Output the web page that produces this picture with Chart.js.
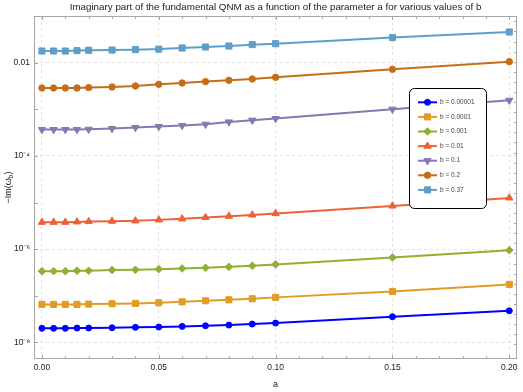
<!DOCTYPE html>
<html><head><meta charset="utf-8">
<script src="https://cdn.jsdelivr.net/npm/chart.js@4.4.1/dist/chart.umd.min.js"></script>
<style>html,body{margin:0;padding:0;background:#fff}</style>
</head><body>
<canvas id="c" width="523" height="392"></canvas>
<script>
// ---- data ----
const chartTitle = 'Imaginary part of the fundamental QNM as a function of the parameter a for various values of b';
const aValues = [0, 0.005, 0.01, 0.015, 0.02, 0.03, 0.04, 0.05, 0.06, 0.07, 0.08, 0.09, 0.1, 0.15, 0.2];
const seriesLabels = ['b = 0.00001', 'b = 0.0001', 'b = 0.001', 'b = 0.01', 'b = 0.1', 'b = 0.2', 'b = 0.37'];
const b00001 = [2.0e-8, 2.0e-8, 2.0e-8, 2.03e-8, 2.03e-8, 2.06e-8, 2.10e-8, 2.13e-8, 2.20e-8, 2.27e-8, 2.35e-8, 2.47e-8, 2.59e-8, 3.54e-8, 4.76e-8];
const b0001  = [6.53e-8, 6.53e-8, 6.53e-8, 6.53e-8, 6.62e-8, 6.73e-8, 6.86e-8, 7.06e-8, 7.41e-8, 7.80e-8, 8.18e-8, 8.61e-8, 9.23e-8, 1.239e-7, 1.75e-7];
const b001   = [3.37e-7, 3.37e-7, 3.37e-7, 3.43e-7, 3.43e-7, 3.55e-7, 3.60e-7, 3.72e-7, 3.85e-7, 3.97e-7, 4.17e-7, 4.39e-7, 4.70e-7, 6.64e-7, 9.5e-7];
const b01    = [3.78e-6, 3.78e-6, 3.78e-6, 3.84e-6, 3.92e-6, 3.98e-6, 4.04e-6, 4.24e-6, 4.46e-6, 4.78e-6, 5.09e-6, 5.42e-6, 5.81e-6, 8.45e-6, 1.256e-5];
const b1     = [3.66e-4, 3.66e-4, 3.66e-4, 3.66e-4, 3.72e-4, 3.85e-4, 4.05e-4, 4.26e-4, 4.47e-4, 4.76e-4, 5.33e-4, 5.81e-4, 6.31e-4, 1.0e-3, 1.556e-3];
const b2     = [0.002858, 0.002858, 0.002858, 0.002858, 0.00291, 0.0030, 0.003155, 0.003428, 0.003656, 0.003917, 0.004178, 0.004457, 0.004842, 0.007178, 0.0105];
const b37    = [0.01774, 0.01774, 0.01774, 0.0181, 0.0184, 0.0186, 0.0190, 0.0195, 0.0206, 0.0216, 0.0227, 0.0243, 0.0255, 0.0344, 0.0453];
const xTickValues = [0, 0.01, 0.02, 0.03, 0.04, 0.05, 0.06, 0.07, 0.08, 0.09, 0.1, 0.11, 0.12, 0.13, 0.14, 0.15, 0.16, 0.17, 0.18, 0.19, 0.2];
const xTickLabels = {0: '0.00', 0.05: '0.05', 0.1: '0.10', 0.15: '0.15', 0.2: '0.20'};
const yTickValues = [1e-8, 1e-6, 1e-4, 1e-2];
const yTickLabels = {'1e-8': '10\u207B\u2078', '0.000001': '10\u207B\u2076', '0.0001': '10\u207B\u2074', '0.01': '0.01'};
const yDecades = [1e-8, 1e-7, 1e-6, 1e-5, 1e-4, 1e-3, 1e-2, 1e-1];

const colors = ['#0000FF', '#E19C24', '#8FB032', '#EB6235', '#8778B3', '#C56E1A', '#5E9EC9'];
const styles = [
  {s: 'circle', r: 3, rot: 0},
  {s: 'rect', r: 4.3, rot: 0},
  {s: 'rectRot', r: 3.8, rot: 0},
  {s: 'triangle', r: 4.2, rot: 0},
  {s: 'triangle', r: 4.2, rot: 180},
  {s: 'circle', r: 3.2, rot: 0},
  {s: 'rect', r: 4.3, rot: 0}
];
const allSeries = [b00001, b0001, b001, b01, b1, b2, b37];

const FONT = "'Liberation Sans', Arial, sans-serif";

const datasets = allSeries.map((vals, i) => ({
  label: seriesLabels[i],
  data: aValues.map((a, k) => ({x: a, y: vals[k]})),
  borderColor: colors[i],
  backgroundColor: colors[i],
  borderWidth: 2,
  pointStyle: styles[i].s,
  pointRadius: styles[i].r,
  pointRotation: styles[i].rot,
  pointBorderWidth: 1,
  tension: 0
}));

function drawMarker(ctx, st, color, x, y) {
  ctx.save();
  ctx.fillStyle = color; ctx.strokeStyle = color; ctx.lineWidth = 1;
  ctx.translate(x, y);
  ctx.rotate(st.rot * Math.PI / 180);
  const r = st.r;
  ctx.beginPath();
  if (st.s === 'circle') {
    ctx.arc(0, 0, r, 0, Math.PI * 2);
  } else if (st.s === 'rect') {
    const h = r * Math.SQRT1_2; ctx.rect(-h, -h, 2 * h, 2 * h);
  } else if (st.s === 'rectRot') {
    ctx.moveTo(0, -r); ctx.lineTo(r, 0); ctx.lineTo(0, r); ctx.lineTo(-r, 0); ctx.closePath();
  } else if (st.s === 'triangle') {
    const e = 3 * r / Math.sqrt(3), h = e * Math.sqrt(3) / 2;
    ctx.moveTo(0, -2 * h / 3); ctx.lineTo(e / 2, h / 3); ctx.lineTo(-e / 2, h / 3); ctx.closePath();
  }
  ctx.fill(); ctx.stroke();
  ctx.restore();
}

const framePlugin = {
  id: 'frame',
  beforeDatasetsDraw(chart) {
    const {ctx, chartArea: ca, scales} = chart;
    ctx.save();
    ctx.strokeStyle = '#a6a6a6';
    ctx.lineWidth = 1;
    ctx.strokeRect(Math.round(ca.left) + 0.5, Math.round(ca.top) + 0.5, Math.round(ca.right - ca.left) - 1, Math.round(ca.bottom - ca.top) - 1);
    ctx.beginPath();
    xTickValues.forEach(v => {
      const px = Math.round(scales.x.getPixelForValue(v)) + 0.5;
      const len = (Math.abs(v * 20 - Math.round(v * 20)) < 1e-6) ? 4 : 3;
      ctx.moveTo(px, ca.bottom); ctx.lineTo(px, ca.bottom - len);
      ctx.moveTo(px, ca.top); ctx.lineTo(px, ca.top + len);
    });
    yDecades.forEach(v => {
      const py = Math.round(scales.y.getPixelForValue(v)) + 0.5;
      if (py > ca.top && py < ca.bottom) { ctx.moveTo(ca.left, py); ctx.lineTo(ca.left + 4, py); }
    });
    for (let k = 0; k < 33; k++) {
      const lv = -1.115 - 0.2164 * k;
      const py = Math.round(scales.y.getPixelForValue(Math.pow(10, lv))) + 0.5;
      if (py > ca.top && py < ca.bottom) { ctx.moveTo(ca.right, py); ctx.lineTo(ca.right - 3, py); }
    }
    ctx.stroke();
    ctx.restore();
  },
  afterDraw(chart) {
    const {ctx, chartArea: ca} = chart;
    // chart title, centred on the plot area
    ctx.save();
    ctx.fillStyle = '#222';
    ctx.font = '9.8px ' + FONT;
    ctx.textAlign = 'center'; ctx.textBaseline = 'middle';
    ctx.fillText(chartTitle, (ca.left + ca.right) / 2, 7.5);
    ctx.restore();

    // y axis title with subscript
    ctx.save();
    ctx.translate(9, (ca.top + ca.bottom) / 2);
    ctx.rotate(-Math.PI / 2);
    ctx.fillStyle = '#222';
    ctx.textBaseline = 'middle';
    const f1 = '9px ' + FONT, f2 = '6.5px ' + FONT;
    ctx.font = f1; const w1 = ctx.measureText('\u2212Im(\u03C9').width; const w3 = ctx.measureText(')').width;
    ctx.font = f2; const w2 = ctx.measureText('b').width;
    let x = -(w1 + w2 + w3) / 2;
    ctx.font = f1; ctx.textAlign = 'left'; ctx.fillText('\u2212Im(\u03C9', x, 0); x += w1;
    ctx.font = f2; ctx.fillText('b', x, 2.5); x += w2;
    ctx.font = f1; ctx.fillText(')', x, 0);
    ctx.restore();

    // legend
    ctx.save();
    const bx = 409.5, by = 88.5, bw = 77, bh = 120;
    ctx.beginPath();
    ctx.roundRect(bx, by, bw, bh, 5);
    ctx.fillStyle = '#fff'; ctx.fill();
    ctx.strokeStyle = '#000'; ctx.lineWidth = 1; ctx.stroke();
    chart.data.datasets.forEach((ds, i) => {
      const y = 102.3 + i * 14.6;
      ctx.strokeStyle = ds.borderColor; ctx.lineWidth = 2;
      ctx.beginPath(); ctx.moveTo(418, y); ctx.lineTo(437, y); ctx.stroke();
      drawMarker(ctx, styles[i], ds.borderColor, 427.5, y);
      ctx.fillStyle = '#444'; ctx.font = '6.5px ' + FONT; ctx.textBaseline = 'middle'; ctx.textAlign = 'left';
      ctx.fillText(ds.label, 440, y);
    });
    ctx.restore();
  }
};

new Chart(document.getElementById('c'), {
  type: 'line',
  data: {datasets},
  plugins: [framePlugin],
  options: {
    responsive: false,
    animation: false,
    events: [],
    layout: {padding: {left: 0, right: 6, top: 16, bottom: 0}},
    plugins: {
      legend: {display: false},
      tooltip: {enabled: false},
      title: {display: false}
    },
    scales: {
      x: {
        type: 'linear', min: -0.0034, max: 0.2033,
        afterBuildTicks: s => { s.ticks = xTickValues.map(v => ({value: v})); },
        afterFit: s => { s.height = 33; },
        ticks: {
          autoSkip: false, maxRotation: 0, padding: 4, color: '#222',
          font: {family: FONT, size: 8.5},
          callback: v => { for (const k in xTickLabels) { if (Math.abs(+k - v) < 1e-9) return xTickLabels[k]; } return ''; }
        },
        grid: {
          drawTicks: false,
          color: c => (c.tick && Math.abs(c.tick.value * 20 - Math.round(c.tick.value * 20)) < 1e-6) ? '#e2e2e2' : 'rgba(0,0,0,0)'
        },
        border: {display: false, dash: [3, 3]},
        title: {display: true, text: 'a', color: '#222', font: {family: FONT, size: 9}, padding: {top: 0, bottom: 2}}
      },
      y: {
        type: 'logarithmic', min: 4.4e-9, max: 0.1,
        afterBuildTicks: s => { s.ticks = yTickValues.map(v => ({value: v})); },
        afterFit: s => { s.width = 34; },
        ticks: {
          autoSkip: false, padding: 4, color: '#222',
          font: {family: FONT, size: 8.5},
          callback: v => yTickLabels[String(v)] || ''
        },
        grid: {drawTicks: false, color: '#e2e2e2'},
        border: {display: false, dash: [3, 3]}
      }
    }
  }
});
</script>
</body></html>
